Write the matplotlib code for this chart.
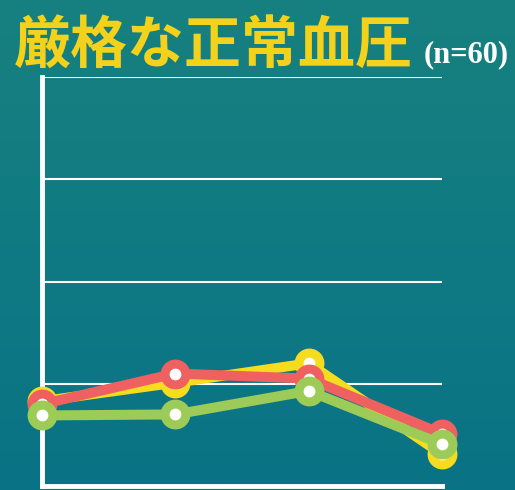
import matplotlib
matplotlib.use("Agg")
import matplotlib.pyplot as plt
import numpy as np

# データ（目盛りなしのグラフから読み取った推定値）
points = [0, 1, 2, 3]
yellow_vals = [0.83, 1.01, 1.20, 0.31]
red_vals = [0.80, 1.10, 1.05, 0.51]
green_vals = [0.69, 0.70, 0.93, 0.41]
grid_levels = [1, 2, 3, 4]

title_text = "厳格な正常血圧"
n_text = "(n=60)"

fig = plt.figure(figsize=(5.15, 4.9), dpi=100)

# 背景のグラデーション
bg = fig.add_axes([0, 0, 1, 1], zorder=-10)
grad = np.linspace(0, 1, 256).reshape(-1, 1)
top = np.array([0x17, 0x81, 0x80]) / 255
bot = np.array([0x09, 0x73, 0x86]) / 255
img = top + (bot - top) * grad[..., None]
bg.imshow(img, aspect="auto", extent=[0, 1, 0, 1], origin="upper")
bg.axis("off")

ax = fig.add_axes([42 / 515, 4 / 490, 400 / 515, 409 / 490])
ax.set_facecolor("none")
ax.set_xlim(0, 3)
ax.set_ylim(0, 4)

for g in grid_levels:
    ax.axhline(g, color="white", lw=1.5, zorder=1)

for s in ["top", "right"]:
    ax.spines[s].set_visible(False)
ax.spines["left"].set_color("white")
ax.spines["bottom"].set_color("white")
ax.spines["left"].set_linewidth(3.5)
ax.spines["bottom"].set_linewidth(3.5)
ax.set_xticks([])
ax.set_yticks([])

series = [
    (yellow_vals, "#f6dc1f"),
    (red_vals, "#ef6060"),
    (green_vals, "#9dcb57"),
]
for i, (vals, col) in enumerate(series):
    ax.plot(points, vals, color=col, lw=7.2, marker="o", ms=15,
            mfc="white", mec=col, mew=6.5, clip_on=False, zorder=3 + i,
            solid_joinstyle="round")

fig.text(14 / 515, 1 - 63 / 490, title_text, color="#f4d21c",
         fontsize=41, fontweight="bold", family=["Noto Sans CJK JP"],
         ha="left", va="baseline")
fig.text(424 / 515, 1 - 62 / 490, n_text, color="white",
         fontsize=22, fontweight="bold", family=["Liberation Serif"],
         ha="left", va="baseline")

fig.savefig("out.png", dpi=100)
